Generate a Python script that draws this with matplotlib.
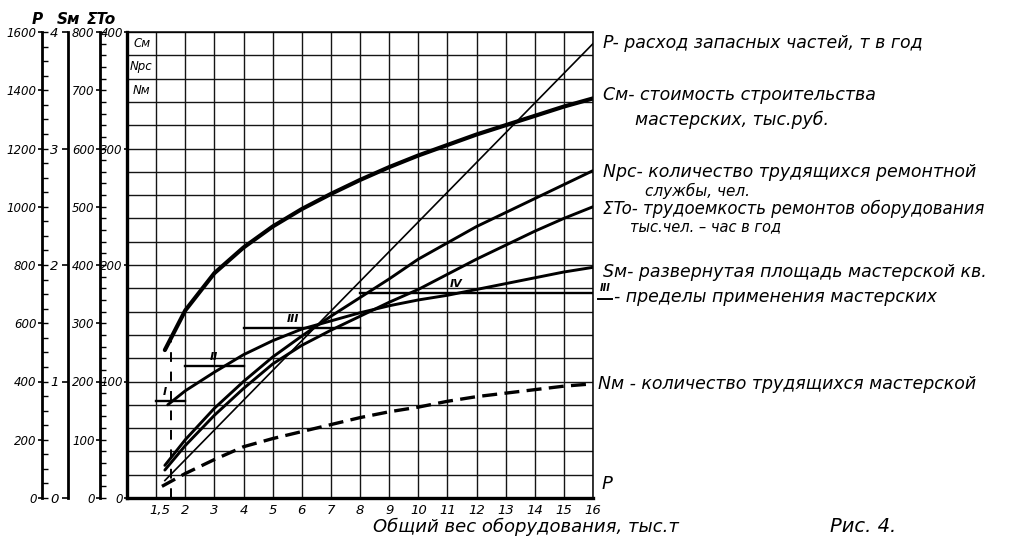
import matplotlib

matplotlib.use('Agg')

import numpy as np
import matplotlib.pyplot as plt
from matplotlib.lines import Line2D

plt.rcParams['font.family'] = ['DejaVu Sans']
plt.rcParams['font.style'] = 'italic'

# total weight of equipment, thousand t
x_cm = [1.3, 2, 3, 4, 5, 6, 7, 8, 9, 10, 11, 12, 13, 14, 15, 16]
cm = [127, 161, 193, 215, 233, 248, 261, 273, 284, 294, 303, 312, 320, 328, 336, 343]

x_npc = [1.3, 2, 3, 4, 5, 6, 7, 8, 9, 10, 11, 12, 13, 14, 15, 16]
npc = [28, 50, 77, 100, 121, 139, 156, 172, 188, 205, 219, 233, 245, 257, 269, 281]

x_to = [1.3, 2, 3, 4, 5, 6, 7, 8, 9, 10, 11, 12, 13, 14, 15, 16]
sum_to = [48, 90, 142, 188, 230, 262, 288, 312, 336, 358, 384, 410, 434, 458, 480, 500]

x_sm = [1.4, 2, 3, 4, 5, 6, 7, 8, 9, 10, 11, 12, 13, 14, 15, 16]
sm = [0.80, 0.92, 1.08, 1.23, 1.35, 1.45, 1.52, 1.59, 1.65, 1.70, 1.74, 1.79, 1.84, 1.89, 1.94, 1.98]

x_nm = [1.2, 2, 3, 4, 5, 6, 7, 8, 9, 10, 11, 12, 13, 14, 15, 16]
nm = [10, 21, 33, 44, 51, 57, 63, 69, 74, 78, 83, 87, 90, 93, 96, 98]

x_p = [1.3, 16]
p = [60, 1560]

# limits of application of workshops (on the Sm scale)
lim_names = ['I', 'II', 'III', 'IV']
lim_x0 = [1, 2, 4, 8]
lim_x1 = [2, 4, 8, 16]
lim_sm = [0.83, 1.13, 1.46, 1.76]
lim_label_x = [1.3, 3.0, 5.7, 11.3]

dash_x = 1.5
dash_top = 135

x_ticks = [1.5] + list(range(2, 17))
x_labels = ['1,5'] + [str(i) for i in range(2, 17)]

W, H = 1010, 542
fig = plt.figure(figsize=(W / 100, H / 100), dpi=100)
ax = fig.add_axes([127 / W, 1 - 498 / H, (593 - 127) / W, (498 - 32) / H])

ax.set_xlim(0, 16)
ax.set_ylim(0, 400)
ax.xaxis.remove_overlapping_locs = False
ax.yaxis.remove_overlapping_locs = False
ax.set_xticks(x_ticks)
ax.set_xticklabels(x_labels)
ax.set_xticks(np.arange(1, 17), minor=True)
ax.set_yticks(np.arange(0, 401, 100))
ax.set_yticks(np.arange(0, 401, 20), minor=True)
ax.grid(which='minor', color='#151515', lw=1.0)
ax.tick_params(axis='x', which='both', length=0, labelsize=9.5, pad=4)
ax.tick_params(axis='y', which='minor', length=0)
ax.tick_params(axis='y', which='major', length=2, width=1.2, labelsize=8.5, pad=1)
ax.spines['left'].set_linewidth(2.4)
ax.spines['bottom'].set_linewidth(2.4)
ax.spines['top'].set_linewidth(1.1)
ax.spines['right'].set_linewidth(1.1)
for lab in ax.get_xticklabels():
    if lab.get_text() == '1,5':
        lab.set_horizontalalignment('right')


def make_scale(off_px, top, major, minor, labels):
    a = ax.twinx()
    a.set_ylim(0, top)
    a.yaxis.remove_overlapping_locs = False
    a.yaxis.set_ticks_position('left')
    a.spines['left'].set_visible(True)
    a.spines['left'].set_position(('outward', off_px * 0.72))
    a.spines['left'].set_linewidth(2.0)
    for s in ('right', 'top', 'bottom'):
        a.spines[s].set_visible(False)
    a.set_yticks(np.arange(0, top + 1e-9, major))
    a.set_yticklabels(labels)
    if minor:
        a.set_yticks(np.arange(0, top + 1e-9, minor), minor=True)
    a.tick_params(which='major', direction='out', length=3, width=1.2, labelsize=8.5, pad=1)
    a.tick_params(which='minor', direction='in', length=4, width=1.0)
    return a


ax_to = make_scale(27, 800, 100, 20, [str(v) for v in range(0, 801, 100)])
ax_sm = make_scale(59, 4, 1, None, ['0', '1', '2', '3', '4'])
ax_p = make_scale(85, 1600, 200, 50, [str(v) for v in range(0, 1601, 200)])
ax_sm.tick_params(which='major', length=4, labelsize=9.5, pad=3)

# curves
ax.plot(x_cm, cm, color='black', lw=3.0, solid_capstyle='round')
ax.plot(x_npc, npc, color='black', lw=2.1, solid_capstyle='round')
ax.plot(x_nm, nm, color='black', lw=2.4, dashes=(4.5, 2.2))
ax_to.plot(x_to, sum_to, color='black', lw=2.1, solid_capstyle='round')
ax_sm.plot(x_sm, sm, color='black', lw=2.1, solid_capstyle='round')
ax_p.plot(x_p, p, color='black', lw=1.2)

for name, a0, a1, yv, lx in zip(lim_names, lim_x0, lim_x1, lim_sm, lim_label_x):
    ax_sm.plot([a0, a1], [yv, yv], color='black', lw=1.7)
    ax_sm.annotate(name, (lx, yv), xytext=(0, 3), textcoords='offset points',
                   ha='center', va='bottom', fontsize=8, fontweight='bold')

ax.plot([dash_x, dash_x], [0, dash_top], color='black', lw=1.4, dashes=(5, 5))

# labels in the top-left cells
for txt, yv in zip(['Cм', 'Nрс', 'Nм'], [390, 370, 350]):
    ax.text(0.5, yv, txt, ha='center', va='center', fontsize=8.5)

# scale headers
for txt, px in zip(['P', 'Sм', 'ΣTo'], [37, 69, 101]):
    fig.text(px / W, 1 - 19 / H, txt, ha='center', va='center', fontsize=11, fontweight='bold')

# explanation texts
notes = [
    ('P- расход запасных частей, т в год', 603, 43, 12.5),
    ('Cм- стоимость строительства', 603, 95, 12.5),
    ('мастерских, тыс.руб.', 635, 120, 12.5),
    ('Nрс- количество трудящихся ремонтной', 603, 172, 12.5),
    ('службы, чел.', 645, 191, 11),
    ('ΣTo- трудоемкость ремонтов оборудования', 603, 209, 12),
    ('тыс.чел. – час в год', 630, 227, 10.5),
    ('Sм- развернутая площадь мастерской кв.', 603, 272, 12.5),
    ('- пределы применения мастерских', 614, 297, 12.5),
    ('Nм - количество трудящихся мастерской', 598, 384, 12.5),
]
for txt, px, py, fs in notes:
    fig.text(px / W, 1 - py / H, txt, ha='left', va='center', fontsize=fs)

fig.add_artist(Line2D([598 / W, 612 / W], [1 - 299 / H, 1 - 299 / H], color='black', lw=1.4))
fig.text(605 / W, 1 - 293 / H, 'III', ha='center', va='bottom', fontsize=7, fontweight='bold')

fig.text(602 / W, 1 - 484 / H, 'P', ha='left', va='center', fontsize=13)
fig.text(526 / W, 1 - 527 / H, 'Общий вес оборудования, тыс.т', ha='center', va='center', fontsize=13)
fig.text(830 / W, 1 - 527 / H, 'Рис. 4.', ha='left', va='center', fontsize=14)

fig.savefig('out.png', dpi=100)
